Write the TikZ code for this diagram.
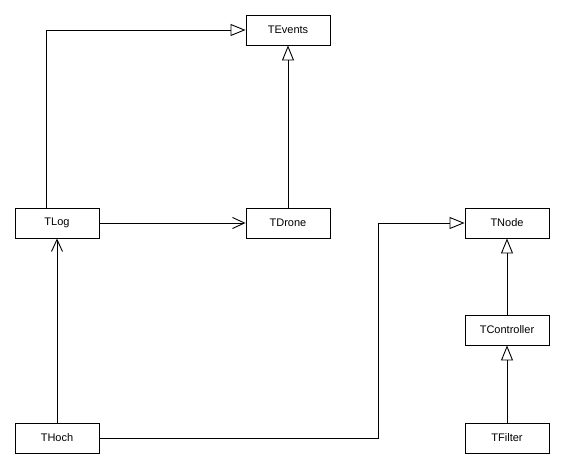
\documentclass[tikz,border=0pt]{standalone}
\usepackage{fontspec}
\setmainfont{Liberation Sans}
\usetikzlibrary{arrows.meta}
\begin{document}
\begin{tikzpicture}[x=1pt,y=-1pt,line width=0.9pt,
  cls/.style={draw,rectangle,minimum width=84pt,minimum height=30pt,inner sep=0pt,font=\fontsize{11}{12}\selectfont},
  inherit/.style={-{Triangle[open,length=15pt,width=12pt]}},
  assoc/.style={-{Straight Barb[length=12pt,width=11pt]}}]
\useasboundingbox (0,0) rectangle (564,468);
\node[cls] (events) at (288,30) {TEvents};
\node[cls] (log) at (57,223) {TLog};
\node[cls] (drone) at (288,223) {TDrone};
\node[cls] (tnode) at (507,223) {TNode};
\node[cls] (ctrl) at (507,330) {TController};
\node[cls] (hoch) at (57,438) {THoch};
\node[cls] (filter) at (507,438) {TFilter};
\coordinate (c1) at (46,30);
\coordinate (c2) at (378,438);
\coordinate (c3) at (378,223);
\draw[inherit] (log.north -| c1) -- (c1) -- (events.west);
\draw[inherit] (drone) -- (events);
\draw[assoc] (log) -- (drone);
\draw[assoc] (hoch) -- (log);
\draw[inherit] (hoch.east) -- (c2) -- (c3) -- (tnode.west);
\draw[inherit] (ctrl) -- (tnode);
\draw[inherit] (filter) -- (ctrl);
\end{tikzpicture}
\end{document}
